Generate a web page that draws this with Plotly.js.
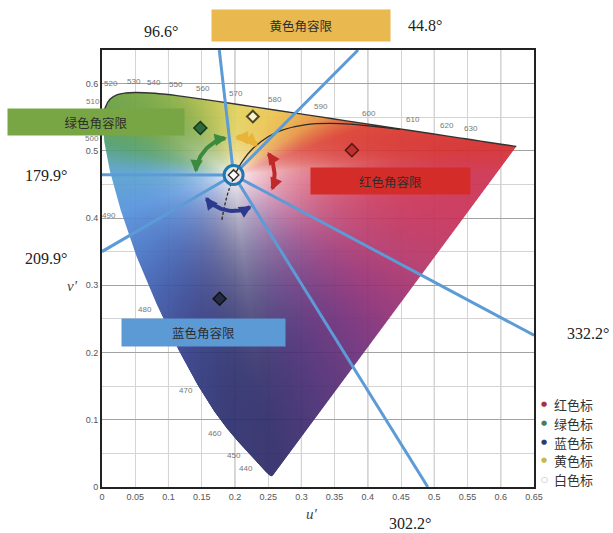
<!DOCTYPE html>
<html><head><meta charset="utf-8">
<script src="https://cdn.plot.ly/plotly-3.0.1.min.js"></script>
<style>html,body{margin:0;padding:0;background:#fff}#chart{width:613px;height:533px}</style>
</head><body><div id="chart"></div><script>
// ---------------- data ----------------
// CIE 1976 spectral locus (u', v')
const locusNm = [380,410,420,430,440,445,450,455,460,465,470,475,480,485,490,495,500,505,510,515,520,525,530,535,540,545,550,555,560,565,570,575,580,585,590,595,600,605,610,615,620,625,630,640,650,660,680,700];
const locusU = [0.2568,0.2545,0.2522,0.2461,0.2347,0.2266,0.2161,0.2033,0.1877,0.1690,0.1441,0.1147,0.0828,0.0521,0.0282,0.0119,0.0035,0.0014,0.0046,0.0123,0.0231,0.0360,0.0501,0.0643,0.0792,0.0953,0.1127,0.1319,0.1531,0.1766,0.2026,0.2312,0.2623,0.2960,0.3315,0.3681,0.4035,0.4380,0.4692,0.4968,0.5203,0.5399,0.5565,0.5830,0.6005,0.6109,0.6199,0.6234];
const locusV = [0.0166,0.0159,0.0169,0.0226,0.0350,0.0437,0.0549,0.0688,0.0871,0.1119,0.1510,0.2044,0.2708,0.3427,0.4117,0.4699,0.5131,0.5432,0.5638,0.5770,0.5837,0.5861,0.5868,0.5865,0.5856,0.5841,0.5821,0.5796,0.5766,0.5732,0.5694,0.5651,0.5604,0.5554,0.5501,0.5446,0.5393,0.5342,0.5296,0.5254,0.5219,0.5190,0.5165,0.5125,0.5099,0.5084,0.5070,0.5065];
// wavelength tick labels along the locus
const wlLabels = [440,450,460,470,480,490,500,510,520,530,540,550,560,570,580,590,600,610,620,630];
// Planckian locus (1000 K ... infinity)
const planckU = [0.4481,0.3579,0.3051,0.2722,0.2505,0.2251,0.2114,0.2004,0.1903,0.1839,0.1801];
const planckV = [0.5319,0.5405,0.5386,0.5311,0.5214,0.5016,0.4847,0.4656,0.4400,0.4157,0.3953];
// target points
const targetNames = ['红色标','绿色标','蓝色标','黄色标','白色标'];
const targetU = [0.376, 0.148, 0.177, 0.227, 0.198];
const targetV = [0.501, 0.534, 0.280, 0.551, 0.464];
// hue-angle tolerance boundaries (degrees, from white point)
const boundaryAngles = [96.6, 44.8, 179.9, 209.9, 302.2, 332.2];
const boundaryLabels = ['96.6°','44.8°','179.9°','209.9°','302.2°','332.2°'];
// tolerance arrows: [start angle, end angle]
const arrowNames = ['绿','红','蓝','黄'];
const arrowStart = [100, 34, 218, 88];
const arrowEnd   = [176, -22, 300, 50];
// tolerance boxes
const boxTexts = ['黄色角容限','绿色角容限','红色角容限','蓝色角容限'];
// axis ticks
const xTickStep = 0.05, yTickStep = 0.1;

// ---------------- geometry helpers ----------------
const M = {l:102, r:79, t:50, b:46};
const PW = 613 - M.l - M.r, PH = 533 - M.t - M.b;
const XR = [0, 0.65], YR = [0, 0.65];
const PXU = PW/(XR[1]-XR[0]), PXV = PH/(YR[1]-YR[0]);
const px2x = p => (p - M.l)/PW;
const py2y = p => (533 - M.b - p)/PH;
const W0 = targetU[4], W1 = targetV[4];

// ---------------- chromaticity fill image ----------------
const hueStops = [[0,'#cc3050'],[6,'#d42a2c'],[20,'#da3c2e'],[33,'#e6903e'],[45,'#eab446'],[58,'#eac44e'],[87,'#e2d05a'],[112,'#b0bc4a'],[126,'#8eae42'],[140,'#72a43e'],[153,'#629c3e'],[166,'#4e9c6c'],[178,'#56a0cc'],[197,'#5492dc'],[220,'#4672c4'],[240,'#3a54a4'],[255,'#323c86'],[268,'#2a2e6e'],[278,'#2c2866'],[290,'#462a72'],[305,'#6a2c78'],[320,'#922e74'],[335,'#b43468'],[350,'#c83056'],[360,'#cc3050']];
const hex = h => [parseInt(h.slice(1,3),16),parseInt(h.slice(3,5),16),parseInt(h.slice(5,7),16)];
const hs = hueStops.map(s => [s[0], hex(s[1])]);
function hueColor(deg){
  for (let k=0;k<hs.length-1;k++){
    if (deg>=hs[k][0] && deg<=hs[k+1][0]){
      const f=(deg-hs[k][0])/(hs[k+1][0]-hs[k][0]);
      return [0,1,2].map(c=>hs[k][1][c]*(1-f)+hs[k+1][1][c]*f);
    }
  }
  return hs[0][1];
}
function buildImage(){
  const n = locusU.length;
  const NA = 1440, R = new Float64Array(NA+1);
  for (let k=0;k<=NA;k++){
    const th = k/NA*2*Math.PI, dx=Math.cos(th), dy=Math.sin(th);
    let best = Infinity;
    for (let i=0;i<n;i++){
      const ax=locusU[i], ay=locusV[i], bx=locusU[(i+1)%n], by=locusV[(i+1)%n];
      const ex=bx-ax, ey=by-ay;
      const den = dx*ey - dy*ex;
      if (Math.abs(den)<1e-12) continue;
      const wx=ax-W0, wy=ay-W1;
      const t=(wx*ey - wy*ex)/den;
      const s=(wx*dy - wy*dx)/den;
      if (t>0 && s>=-1e-9 && s<=1+1e-9 && t<best) best=t;
    }
    R[k]=best;
  }
  const dxp = 1/PXU, dyp = 1/PXV;
  const nx = Math.round(0.65*PXU), ny = Math.round(0.60*PXV);
  const white=[250,244,247];
  const z=[];
  for (let j=0;j<ny;j++){
    const v=(j+0.5)*dyp, row=[];
    for (let i=0;i<nx;i++){
      const u=(i+0.5)*dxp;
      const du=u-W0, dv=v-W1;
      const d=Math.hypot(du,dv);
      let th=Math.atan2(dv,du); if (th<0) th+=2*Math.PI;
      const kf=th/(2*Math.PI)*NA, k0=Math.floor(kf), fr=kf-k0;
      const Rt=R[k0]*(1-fr)+R[Math.min(k0+1,NA)]*fr;
      const edge=(Rt-d)*668;
      const a=Math.max(0,Math.min(1,edge+0.5));
      if (a<=0){ row.push([255,255,255,0]); continue; }
      const s=Math.min(1,d/Rt);
      const f=1-Math.pow(1-s,3);
      const hc=hueColor(th*180/Math.PI);
      row.push([Math.round(white[0]*(1-f)+hc[0]*f),Math.round(white[1]*(1-f)+hc[1]*f),Math.round(white[2]*(1-f)+hc[2]*f),0.92*a]);
    }
    z.push(row);
  }
  return {type:'image', z:z, x0:dxp/2, y0:dyp/2, dx:dxp, dy:dyp, colormodel:'rgba', hoverinfo:'skip'};
}

const traces = [buildImage()];

// spectral locus outline (upper part)
const i505 = locusNm.indexOf(505);
traces.push({type:'scatter', mode:'lines', x:locusU.slice(i505), y:locusV.slice(i505),
  line:{color:'#333', width:1.4, shape:'spline'}, hoverinfo:'skip', showlegend:false});

// Planckian locus: solid down to the white point, dashed beyond
traces.push({type:'scatter', mode:'lines', x:planckU.slice(0,8), y:planckV.slice(0,8),
  line:{color:'#2a2a2a', width:1.3, shape:'spline'}, hoverinfo:'skip', showlegend:false});
traces.push({type:'scatter', mode:'lines', x:planckU.slice(7), y:planckV.slice(7),
  line:{color:'#2a2a2a', width:1.3, dash:'3px,2px', shape:'spline'}, hoverinfo:'skip', showlegend:false});

// boundary lines from the white point
const r0 = 10;
boundaryAngles.forEach(a=>{
  const rad=a*Math.PI/180, c=Math.cos(rad), s=Math.sin(rad);
  let t=Infinity;
  if (c>1e-9) t=Math.min(t,(XR[1]-W0)/c); if (c<-1e-9) t=Math.min(t,(XR[0]-W0)/c);
  if (s>1e-9) t=Math.min(t,(YR[1]-W1)/s); if (s<-1e-9) t=Math.min(t,(YR[0]-W1)/s);
  traces.push({type:'scatter', mode:'lines',
    x:[W0+c*r0/PXU, W0+c*t], y:[W1+s*r0/PXV, W1+s*t],
    line:{color:'#5c9bd6', width:3}, hoverinfo:'skip', showlegend:false, cliponaxis:true});
});
// ring around white point
traces.push({type:'scatter', mode:'markers', x:[W0], y:[W1],
  marker:{symbol:'circle-open', size:19, line:{width:3, color:'#5c9bd6'}}, hoverinfo:'skip', showlegend:false});

// tolerance arrows
const arrowColors = ['#3b8a3e','#c0282a','#2c3a8c','#e8b43a'];
const arrowWidths = [4, 4, 4, 5.5];
const arrowSizes = [0.62, 0.62, 0.62, 0.48];
const arrowRadii = [38, 41, 36, 38];
const arrowAnns = [];
arrowStart.forEach((a1,k)=>{
  const a2=arrowEnd[k], r=arrowRadii[k], sg=Math.sign(a2-a1);
  const b1=a1+sg*3, b2=a2-sg*3;
  const xs=[], ys=[];
  for (let q=0;q<=30;q++){
    const th=(b1+(b2-b1)*q/30)*Math.PI/180;
    xs.push(W0+r*Math.cos(th)/PXU); ys.push(W1+r*Math.sin(th)/PXV);
  }
  traces.push({type:'scatter', mode:'lines', x:xs, y:ys, line:{color:arrowColors[k], width:arrowWidths[k]},
    hoverinfo:'skip', showlegend:false});
  [[a2,sg],[a1,-sg]].forEach(([ae,dir])=>{
    const th=ae*Math.PI/180;
    const mx=-Math.sin(th)*dir, my=-Math.cos(th)*dir; // screen direction of motion
    arrowAnns.push({x:W0+r*Math.cos(th)/PXU, y:W1+r*Math.sin(th)/PXV, xref:'x', yref:'y',
      ax:-mx*6, ay:-my*6, text:'', showarrow:true, arrowhead:2, arrowsize:arrowSizes[k],
      arrowwidth:arrowWidths[k], arrowcolor:arrowColors[k], standoff:0, startstandoff:0});
  });
});

// target markers
const tgtStyle = [
  {symbol:'diamond', size:10, color:'#c0302e', line:{color:'#5a1414', width:1.5}},
  {symbol:'diamond', size:10, color:'#2c6a3c', line:{color:'#163620', width:1.5}},
  {symbol:'diamond', size:10, color:'#262a44', line:{color:'#111', width:1.5}},
  {symbol:'diamond', size:9, color:'#fbf4d0', line:{color:'#4e4620', width:2}},
  {symbol:'diamond', size:8, color:'#ffffff', line:{color:'#333', width:1.5}}
];
targetNames.forEach((nm,k)=>{
  traces.push({type:'scatter', mode:'markers', name:nm, x:[targetU[k]], y:[targetV[k]],
    marker:tgtStyle[k], hoverinfo:'name', showlegend:false});
});

// ---------------- annotations ----------------
const anns = [];
const serif = {family:'Liberation Serif, DejaVu Serif, serif', size:16, color:'#222'};
const labelPos = [[161,31],[425,26],[46,175],[46,258],[410,523],[588,333]];
boundaryLabels.forEach((t,k)=>{
  anns.push({xref:'paper', yref:'paper', x:px2x(labelPos[k][0]), y:py2y(labelPos[k][1]),
    text:t, showarrow:false, font:serif, xanchor:'center', yanchor:'middle'});
});
const boxGeom = [[212,10,178,31,'#e9b84e'],[8,109,176,26,'#79a645'],[311,168,159,26,'#d42c28'],[122,319,163,27,'#5c9ad6']];
boxTexts.forEach((t,k)=>{
  const g=boxGeom[k];
  anns.push({xref:'paper', yref:'paper', x:px2x(g[0]+g[2]/2), y:py2y(g[1]+g[3]/2),
    text:t, showarrow:false, bgcolor:g[4], width:g[2], height:g[3], borderpad:0,
    font:{family:'Noto Sans CJK SC', size:12.5, color:'#2e2e2e'}, xanchor:'center', yanchor:'middle', valign:'middle'});
});
// axis titles
anns.push({xref:'paper', yref:'paper', x:px2x(312), y:py2y(524), text:"<i>u'</i>", showarrow:false,
  font:{family:'Liberation Serif, serif', size:15, color:'#444'}});
anns.push({xref:'paper', yref:'paper', x:px2x(65), y:py2y(286), text:"<i>v'</i>", showarrow:false,
  font:{family:'Liberation Serif, serif', size:15, color:'#444'}});
// wavelength labels
wlLabels.forEach(nm=>{
  const i=locusNm.indexOf(nm);
  const left = nm<=510;
  let ys = left ? -5 : 11;
  if (nm===510) ys = 6;
  if (nm===500) ys = 4;
  anns.push({x:locusU[i], y:locusV[i], xref:'x', yref:'y', text:String(nm), showarrow:false,
    font:{family:'Liberation Sans, sans-serif', size:8, color:'#777'},
    xanchor:left?'right':'center', yanchor:'middle',
    xshift:left?-3:(nm===520?-6:-1), yshift:ys});
});
// legend
const legDot = ['#a4343c','#4f7a5c','#2e3a74','#c8b84a','#aaaaaa'];
const legY = [404,423,442,460,479];
targetNames.forEach((nm,k)=>{
  anns.push({xref:'paper', yref:'paper', x:px2x(544), y:py2y(legY[k]), text:k===4?'○':'●', showarrow:false,
    font:{family:'DejaVu Sans', size:k===4?8:7, color:legDot[k]}, xanchor:'center', yanchor:'middle'});
  anns.push({xref:'paper', yref:'paper', x:px2x(552), y:py2y(legY[k]), text:nm, showarrow:false,
    font:{family:'Noto Sans CJK SC', size:13, color:'#333'}, xanchor:'left', yanchor:'middle'});
});

// darker grid lines every 0.1 on u'
const shapes = [];
for (let k=1;k<=6;k++){
  shapes.push({type:'line', xref:'x', yref:'paper', x0:k*0.1, x1:k*0.1, y0:0, y1:1, layer:'below',
    line:{color:'#a2a2a2', width:1}});
}

const layout = {
  width:613, height:533, margin:{l:M.l, r:M.r, t:M.t, b:M.b, pad:0},
  paper_bgcolor:'#fff', plot_bgcolor:'#fff', showlegend:false,
  font:{family:'Liberation Sans, sans-serif'},
  xaxis:{range:XR, dtick:xTickStep, tick0:0, showgrid:true, gridcolor:'#d4d4d4', gridwidth:1,
    zeroline:false, showline:true, mirror:true, linecolor:'#222', linewidth:2, ticks:'',
    tickfont:{size:9, color:'#555'}, fixedrange:true},
  yaxis:{range:YR, dtick:yTickStep, tick0:0, showgrid:true, gridcolor:'#a2a2a2', gridwidth:1,
    minor:{dtick:0.05, showgrid:true, gridcolor:'#d4d4d4'}, scaleanchor:false,
    zeroline:false, showline:true, mirror:true, linecolor:'#222', linewidth:2, ticks:'',
    tickfont:{size:9, color:'#555'}, fixedrange:true},
  annotations: anns.concat(arrowAnns),
  shapes: shapes
};
Plotly.newPlot('chart', traces, layout, {displayModeBar:false, staticPlot:true});
</script></body></html>
